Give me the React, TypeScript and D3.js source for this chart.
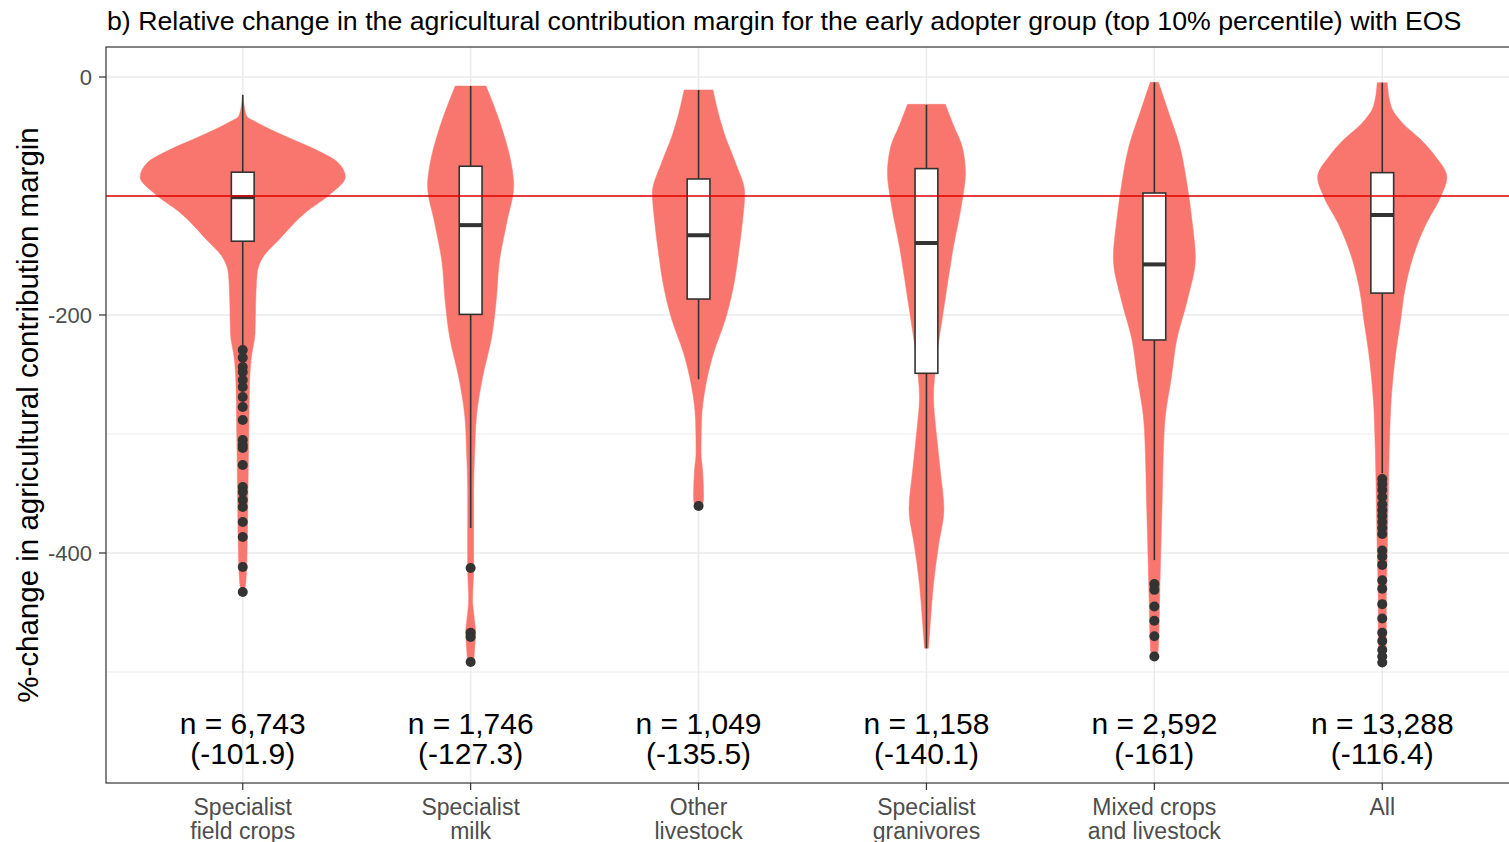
import React from 'react';
import * as d3 from 'd3';

const title =
  'b) Relative change in the agricultural contribution margin for the early adopter group (top 10% percentile) with EOS';
const yTitle = '%-change in agricultural contribution margin';

const categories = [
  ['Specialist', 'field crops'],
  ['Specialist', 'milk'],
  ['Other', 'livestock'],
  ['Specialist', 'granivores'],
  ['Mixed crops', 'and livestock'],
  ['All'],
];
const nLabels = ['n = 6,743', 'n = 1,746', 'n = 1,049', 'n = 1,158', 'n = 2,592', 'n = 13,288'];
const meanLabels = ['(-101.9)', '(-127.3)', '(-135.5)', '(-140.1)', '(-161)', '(-116.4)'];

const yMajor = [0, -200, -400];
const yMinor = [-100, -300, -500];
const refLine = -100;
const labelValue = -550;

// violin outlines: [value, relative density 0..100]
const violinFieldCrops = [
  [-15, 0], [-25, 1.5], [-33, 4], [-39, 15.5], [-50, 42], [-61, 71], [-72, 93], [-84, 100],
  [-98, 86], [-114, 61], [-137, 35], [-151, 20], [-165, 14], [-193, 12.5], [-215, 12],
  [-238, 8], [-260, 6.5], [-288, 6], [-320, 5.5], [-355, 5], [-406, 4], [-425, 3], [-433, 0.5],
];
const violinMilk = [
  [-7.6, 15], [-42, 30], [-75, 40], [-91, 42], [-123, 35], [-155, 28], [-187, 25], [-219, 20.4],
  [-252, 11.7], [-284, 5.8], [-316, 3.9], [-348, 2.9], [-380, 2.9], [-413, 2.9], [-439, 1.9],
  [-455, 3.5], [-467, 4.9], [-480, 3.9], [-493, 2.9],
];
const violinOther = [
  [-10.9, 14], [-36, 21], [-50, 26], [-72, 36], [-97.5, 45], [-120, 43], [-148, 39], [-176, 34],
  [-204, 26], [-232, 14.6], [-260, 6.8], [-288, 2.9], [-316, 2.4], [-330, 3.9], [-353, 4.9], [-360, 3.9],
];
const violinGranivores = [
  [-23, 18.4], [-40, 26], [-59, 35], [-81, 38], [-103, 35], [-144, 26], [-191, 17.5], [-238, 9.7],
  [-269, 6.8], [-300, 9.7], [-332, 13.6], [-363, 17], [-394, 11.7], [-426, 6.8], [-457, 3.9], [-480, 1.9],
];
const violinMixed = [
  [-4.5, 4], [-26.5, 12.6], [-59, 25], [-91, 32], [-123, 37], [-152, 40], [-188, 32], [-220, 22],
  [-253, 16.5], [-285, 10.7], [-317, 8.7], [-350, 7.8], [-382, 6.8], [-414, 5.8], [-447, 4.9],
  [-479, 3.9], [-488, 2.9],
];
const violinAll = [
  [-4.8, 4.9], [-25, 8.7], [-39, 20], [-53, 38], [-67, 52], [-84, 63], [-100.6, 57], [-123, 43],
  [-151, 30], [-179, 22], [-207, 17.5], [-229, 13.6], [-271, 8.7], [-313, 6.8], [-355, 5.8],
  [-397, 4.9], [-440, 3.9], [-473, 3.9], [-494, 1.9],
];
const violins = [violinFieldCrops, violinMilk, violinOther, violinGranivores, violinMixed, violinAll];

// [upper whisker, q3, median, q1, lower whisker]
const boxStats = [
  [-15, -80, -101, -138, -226],
  [-7.6, -75, -124.5, -199.5, -379],
  [-11, -85.7, -133, -186.6, -254],
  [-23.5, -77, -139.5, -249, -480],
  [-4.5, -97.5, -157.5, -221, -406],
  [-4.8, -80.4, -116, -181.6, -333],
];

const outliersFieldCrops = [
  -229.4, -236, -243.7, -247.9, -254.6, -260.5, -268.9, -277.3, -288.2, -305, -309.2, -311.8,
  -326, -344.5, -348.7, -355.5, -361.3, -374, -386.6, -411.8, -432.8,
];
const outliersMilk = [-412.6, -467, -470.6, -491.6];
const outliersOther = [-360.5];
const outliersGranivores: number[] = [];
const outliersMixed = [-426, -431, -445, -457, -470, -487];
const outliersAll = [
  -337.8, -342, -347, -353, -359, -364, -369, -374, -379, -384, -398, -403, -410, -423, -430,
  -443, -455, -467, -474, -481.5, -487, -492,
];
const outliers = [outliersFieldCrops, outliersMilk, outliersOther, outliersGranivores, outliersMixed, outliersAll];

const W = 1509;
const H = 842;
const FONT = '"Liberation Sans", Arial, Helvetica, sans-serif';

export default function App() {
  const panel = { left: 106, top: 47, right: 1519, bottom: 783 };

  const x = d3
    .scalePoint<number>()
    .domain(d3.range(categories.length))
    .range([panel.left, panel.right])
    .padding(0.6);
  const step = x.step();

  const y = d3.scaleLinear().domain([-593.3, 25.2]).range([panel.bottom, panel.top]);
  const halfWidth = d3.scaleLinear().domain([0, 100]).range([0, step * 0.45]);
  const boxHalf = step * 0.05;

  const violinPath = (profile: number[][], cx: number) =>
    d3
      .area<number[]>()
      .y((d) => y(d[0]))
      .x0((d) => cx - halfWidth(d[1]))
      .x1((d) => cx + halfWidth(d[1]))
      .curve(d3.curveMonotoneY)(profile) || '';

  return (
    <svg
      width={W}
      height={H}
      style={{ position: 'absolute', left: 0, top: 0, background: '#fff' }}
      fontFamily={FONT}
    >
      <defs>
        <clipPath id="panel-clip">
          <rect x={panel.left} y={panel.top} width={panel.right - panel.left} height={panel.bottom - panel.top} />
        </clipPath>
      </defs>

      <text x={107} y={30} fontSize={26.7} fill="#000">
        {title}
      </text>

      <g clipPath="url(#panel-clip)">
        {/* grid */}
        {yMinor.map((v) => (
          <line key={'mn' + v} x1={panel.left} x2={panel.right} y1={y(v)} y2={y(v)} stroke="#ebebeb" strokeWidth={1} />
        ))}
        {yMajor.map((v) => (
          <line key={'mj' + v} x1={panel.left} x2={panel.right} y1={y(v)} y2={y(v)} stroke="#ebebeb" strokeWidth={1.6} />
        ))}
        {categories.map((_, i) => (
          <line key={'gx' + i} x1={x(i)} x2={x(i)} y1={panel.top} y2={panel.bottom} stroke="#ebebeb" strokeWidth={1.6} />
        ))}

        {/* violins */}
        {violins.map((prof, i) => (
          <path key={'v' + i} d={violinPath(prof, x(i)!)} fill="#F8766D" stroke="#F8766D" strokeWidth={0.5} />
        ))}

        {/* boxplots */}
        {boxStats.map((s, i) => {
          const cx = x(i)!;
          return (
            <g key={'b' + i} stroke="#333333">
              <line x1={cx} x2={cx} y1={y(s[0])} y2={y(s[1])} strokeWidth={1.6} />
              <line x1={cx} x2={cx} y1={y(s[3])} y2={y(s[4])} strokeWidth={1.6} />
              <rect x={cx - boxHalf} y={y(s[1])} width={boxHalf * 2} height={y(s[3]) - y(s[1])} fill="#fff" strokeWidth={1.6} />
              <line x1={cx - boxHalf} x2={cx + boxHalf} y1={y(s[2])} y2={y(s[2])} strokeWidth={4} />
            </g>
          );
        })}

        {outliers.map((pts, i) =>
          pts.map((v, j) => <circle key={'o' + i + '-' + j} cx={x(i)} cy={y(v)} r={5} fill="#333333" />)
        )}

        <line x1={panel.left} x2={panel.right} y1={y(refLine)} y2={y(refLine)} stroke="#e00000" strokeWidth={1.5} />

        {nLabels.map((t, i) => (
          <text key={'n' + i} x={x(i)} y={y(labelValue)} textAnchor="middle" fontSize={30} fill="#000">
            <tspan x={x(i)} dy={3}>{t}</tspan>
            <tspan x={x(i)} dy={30}>{meanLabels[i]}</tspan>
          </text>
        ))}
      </g>

      {/* panel border */}
      <rect
        x={panel.left}
        y={panel.top}
        width={panel.right - panel.left}
        height={panel.bottom - panel.top}
        fill="none"
        stroke="#333333"
        strokeWidth={1.2}
      />

      {/* y axis */}
      {yMajor.map((v) => (
        <g key={'yt' + v}>
          <line x1={panel.left - 7} x2={panel.left} y1={y(v)} y2={y(v)} stroke="#333333" strokeWidth={1.2} />
          <text x={panel.left - 14} y={y(v)} dy="0.36em" textAnchor="end" fontSize={22} fill="#4d4d4d">
            {v}
          </text>
        </g>
      ))}
      <text
        transform={`translate(38,${(panel.top + panel.bottom) / 2}) rotate(-90)`}
        textAnchor="middle"
        fontSize={29.5}
        fill="#000"
      >
        {yTitle}
      </text>

      {/* x axis */}
      {categories.map((lines, i) => (
        <g key={'xt' + i}>
          <line x1={x(i)} x2={x(i)} y1={panel.bottom} y2={panel.bottom + 7} stroke="#333333" strokeWidth={1.2} />
          <text x={x(i)} y={815} textAnchor="middle" fontSize={23} fill="#4d4d4d">
            {lines.map((l, k) => (
              <tspan key={k} x={x(i)} dy={k === 0 ? 0 : 24}>
                {l}
              </tspan>
            ))}
          </text>
        </g>
      ))}
    </svg>
  );
}
